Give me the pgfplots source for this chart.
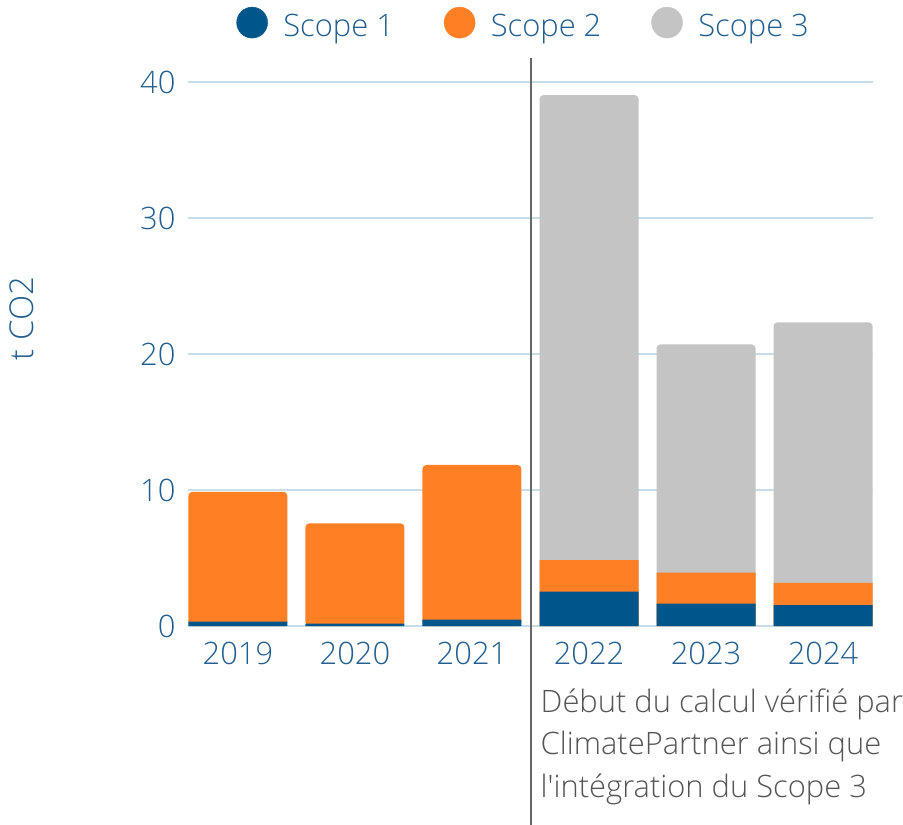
\documentclass[border=0pt]{standalone}
\usepackage{fontspec}
\setmainfont{Open Sans Light}
\usepackage{pgfplots}
\pgfplotsset{compat=1.18}
\definecolor{sone}{HTML}{00568A}
\definecolor{stwo}{HTML}{FF7F24}
\definecolor{sthree}{HTML}{C4C4C4}
\definecolor{gridc}{HTML}{C9DCE8}
\definecolor{txt}{HTML}{225F8E}
\definecolor{ann}{HTML}{555555}
\definecolor{vline}{HTML}{666666}
\begin{document}
\begin{tikzpicture}
\useasboundingbox (-188bp,-199bp) rectangle (715bp,626bp);
\begin{axis}[
  at={(0,0)}, anchor=south west,
  scale only axis, width=685bp, height=544bp,
  xmin=-0.427, xmax=5.427, ymin=0, ymax=40,
  axis line style={draw=none},
  ytick={0,10,20,30,40},
  xtick={0,1,2,3,4,5},
  xticklabels={2019,2020,2021,2022,2023,2024},
  ymajorgrids, grid style={gridc, line width=1.3bp},
  major tick length=0pt,
  ticklabel style={font=\fontsize{31}{36}\selectfont, text=txt},
  xticklabel style={yshift=-13bp},
  yticklabel style={xshift=-9bp},
  /pgf/number format/assume math mode=true,
  clip=false,
  ybar, bar width=99bp, bar shift=0pt,
  legend columns=3,
  legend style={at={(0.49,1)}, anchor=south, yshift=40bp, draw=none, fill=none,
    font=\fontsize{31}{36}\selectfont, text=txt,
    /tikz/every even column/.append style={column sep=48bp}},
]
\addplot[fill=sthree, draw=none, rounded corners=4bp, forget plot] coordinates {(3,39.04) (4,20.71) (5,22.33)};
\addplot[fill=stwo, draw=none, rounded corners=4bp, forget plot] coordinates {(0,9.87) (1,7.55) (2,11.84)};
\addplot[fill=stwo, draw=none, forget plot] coordinates {(3,4.85) (4,3.92) (5,3.18)};
\addplot[fill=sone, draw=none, forget plot] coordinates {(0,0.32) (1,0.17) (2,0.46) (3,2.52) (4,1.64) (5,1.54)};
\addlegendimage{legend image code/.code={\fill[sone] (0bp,0.33em) circle (15.5bp); \path (29bp,0.33em);}}
\addlegendentry{Scope 1}
\addlegendimage{legend image code/.code={\fill[stwo] (0bp,0.33em) circle (15.5bp); \path (29bp,0.33em);}}
\addlegendentry{Scope 2}
\addlegendimage{legend image code/.code={\fill[sthree] (0bp,0.33em) circle (15.5bp); \path (29bp,0.33em);}}
\addlegendentry{Scope 3}
\draw[vline, line width=2bp] (axis cs:2.5,41.76) -- (axis cs:2.5,-14.7);
\node[rotate=90, text=txt, font=\fontsize{33}{38}\selectfont] at (axis cs:-1.85,22.6) {t CO2};
\node[anchor=north west, align=left, text=ann, inner sep=0pt, font=\fontsize{31}{42.5}\selectfont] at (axis cs:2.5,-4.6) [xshift=10bp] {Début du calcul vérifié par\\ClimatePartner ainsi que\\l\textquotesingle intégration du Scope 3};
\end{axis}
\end{tikzpicture}
\end{document}
